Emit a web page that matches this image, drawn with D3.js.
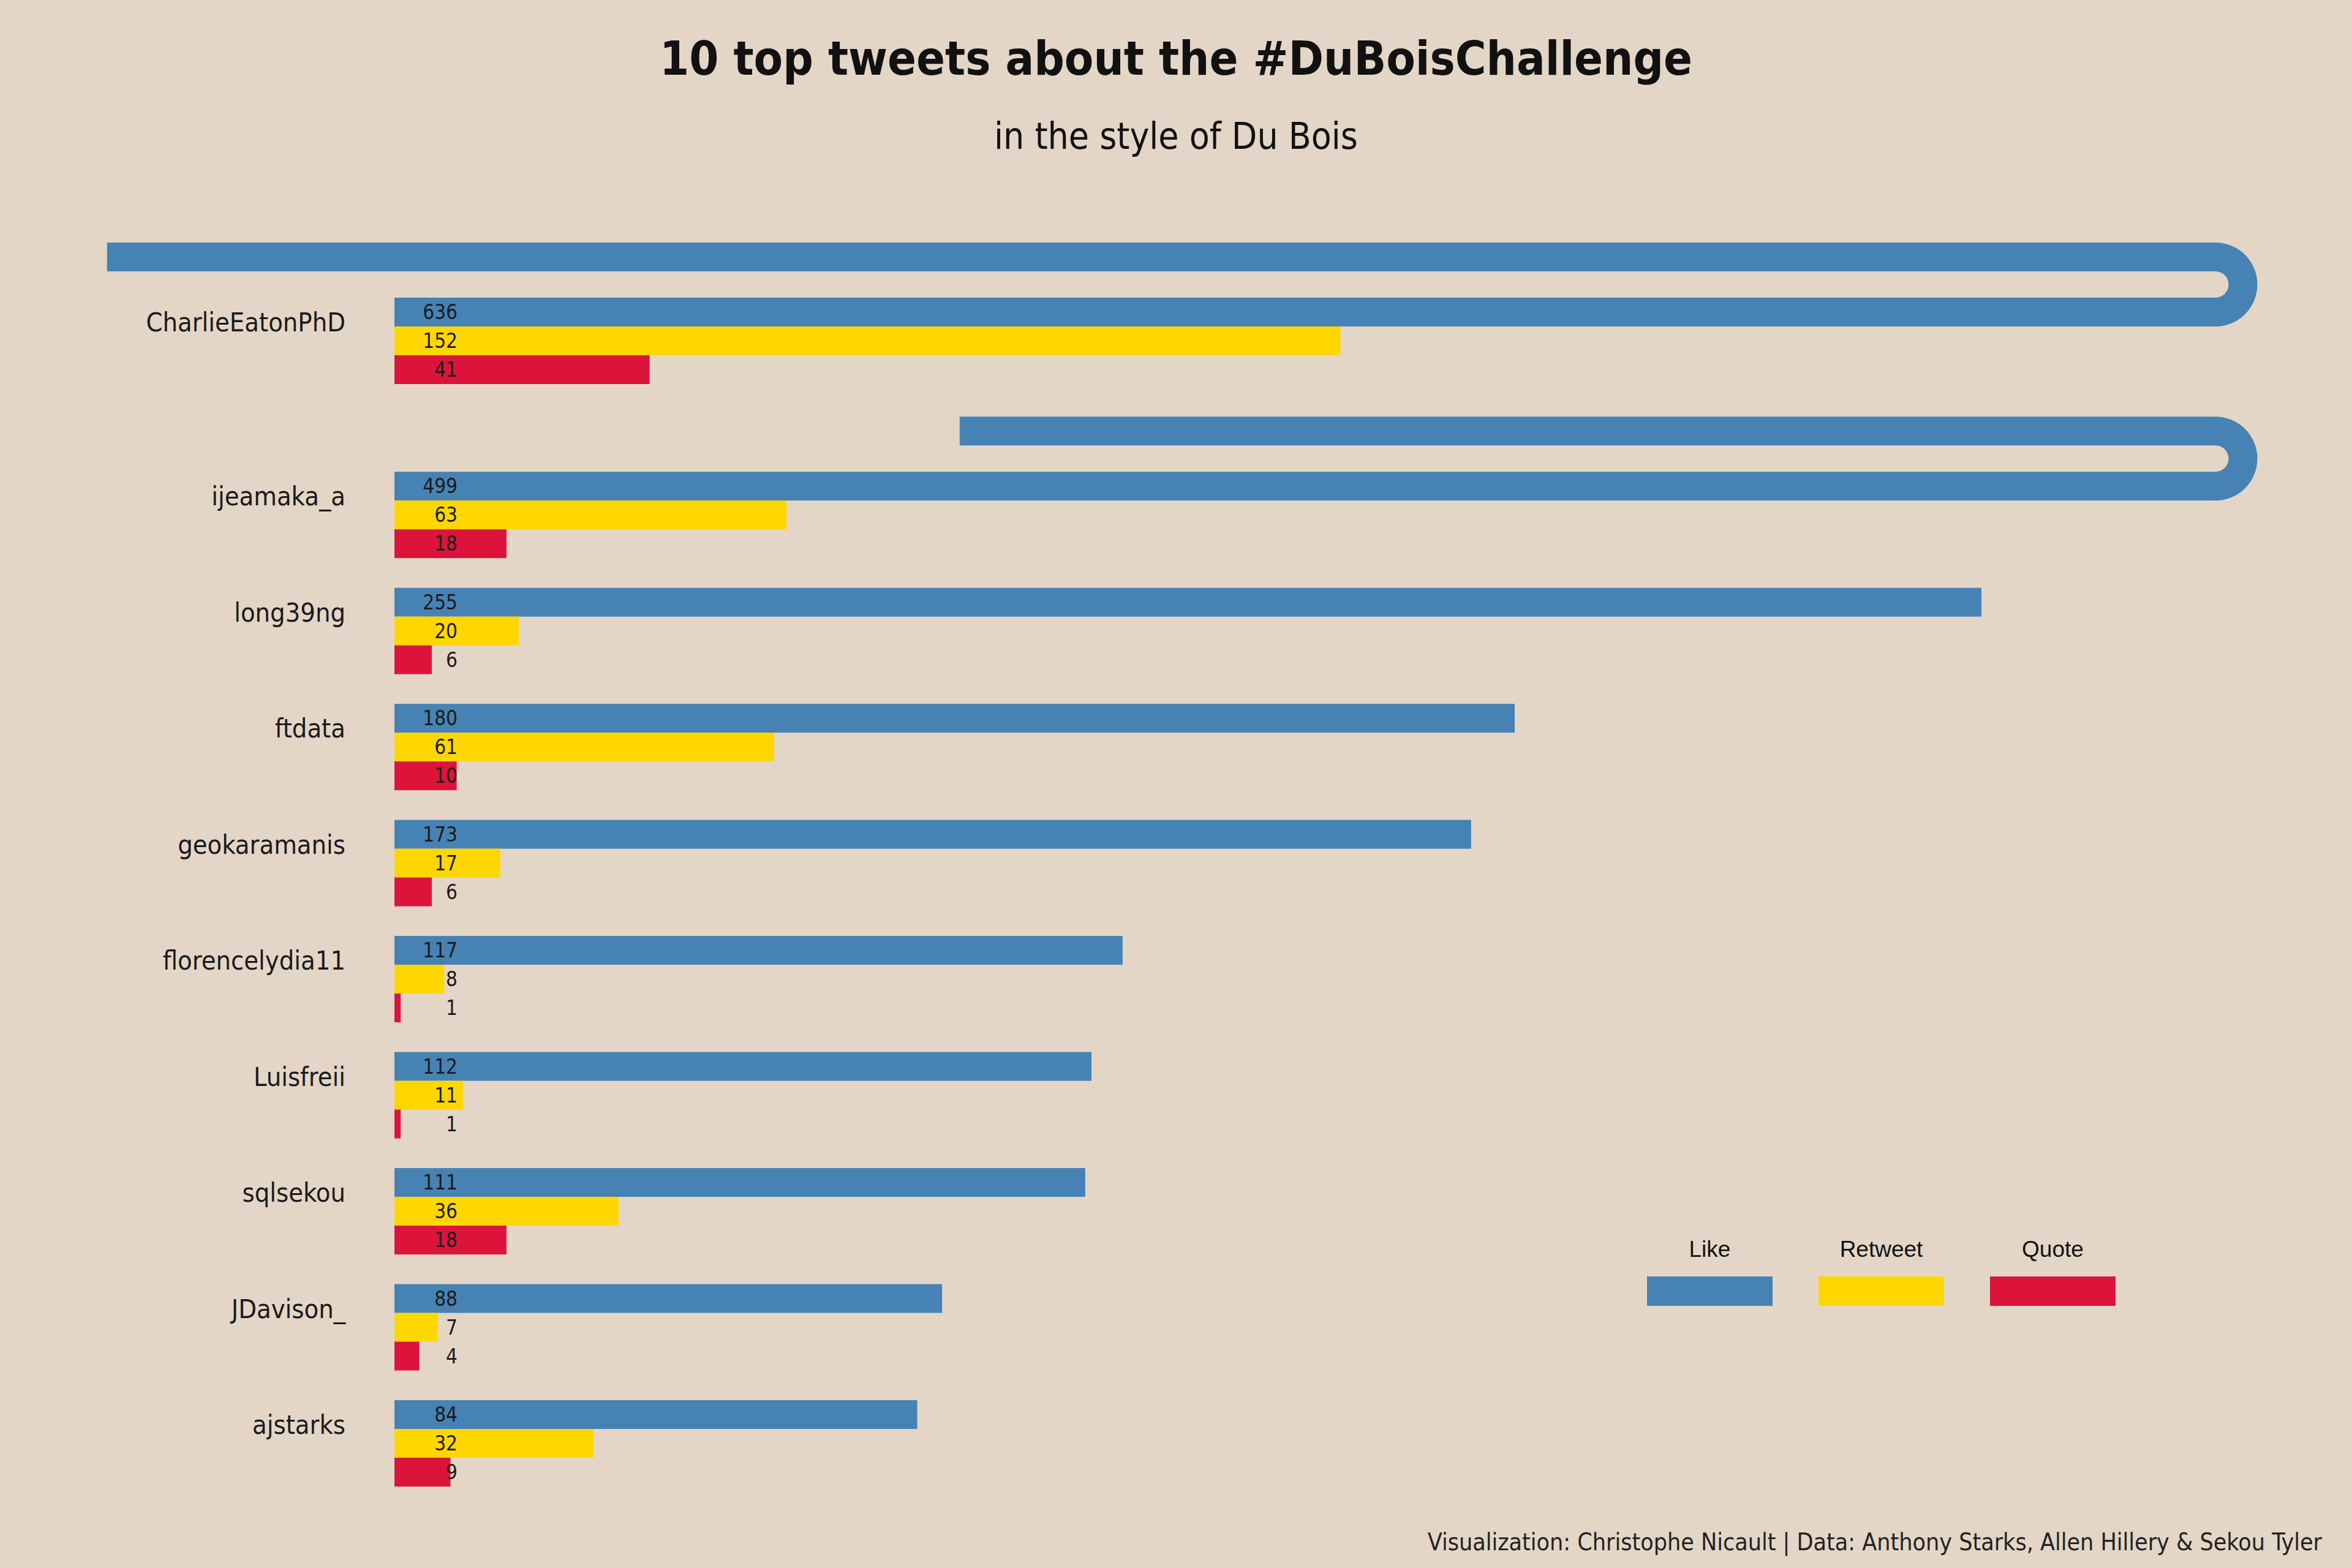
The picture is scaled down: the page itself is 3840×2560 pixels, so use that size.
<!DOCTYPE html>
<html>
<head>
<meta charset="utf-8">
<script src="https://cdn.jsdelivr.net/npm/d3@7"></script>
<style>
  html, body { margin: 0; padding: 0; background: #e3d6c6; }
  .cond { font-family: "Liberation Sans Narrow", "DejaVu Sans Condensed", "Roboto Condensed", Roboto, sans-serif; font-stretch: condensed; }
</style>
</head>
<body>
<div id="chart"></div>
<script>
var names = ["CharlieEatonPhD", "ijeamaka_a", "long39ng", "ftdata", "geokaramanis",
             "florencelydia11", "Luisfreii", "sqlsekou", "JDavison_", "ajstarks"];
var likes = [636, 499, 255, 180, 173, 117, 112, 111, 88, 84];
var retweets = [152, 63, 20, 61, 17, 8, 11, 36, 7, 32];
var quotes = [41, 18, 6, 10, 6, 1, 1, 18, 4, 9];
var series = ["Like", "Retweet", "Quote"];
var colors = ["steelblue", "gold", "crimson"];

var width = 3840, height = 2560;
var svg = d3.select("#chart").append("svg")
    .attr("width", width)
    .attr("height", height)
    .style("display", "block");

svg.append("rect").attr("width", width).attr("height", height).attr("fill", "#e3d6c6");

var x = d3.scaleLinear().domain([0, 255]).range([644, 3235]);
var xTurn = 3617;          // where long bars fold back
var xMaxVal = x.invert(xTurn);
var barH = 47;
var gap = 43;              // space between folded leg and main bar

// groups with folded bars take half a step more
var slots = [];
var s = 0;
likes.forEach((v, i) => {
    if (i > 0 && v > xMaxVal) s += 0.5;
    slots.push(s);
    s += 1;
});
var y = d3.scaleLinear().domain([0, 9.5]).range([486, 2286]);

// title
svg.append("text")
    .attr("class", "cond")
    .attr("x", width / 2).attr("y", 122)
    .attr("text-anchor", "middle")
    .attr("font-size", 77)
    .attr("font-weight", 600)
    .attr("fill", "#111")
    .text("10 top tweets about the #DuBoisChallenge");
svg.append("text")
    .attr("class", "cond")
    .attr("x", width / 2).attr("y", 243)
    .attr("text-anchor", "middle")
    .attr("font-size", 60)
    .attr("fill", "#111")
    .text("in the style of Du Bois");

names.forEach((name, i) => {
    var top = y(slots[i]);
    var vals = [likes[i], retweets[i], quotes[i]];
    var g = svg.append("g");

    g.append("text")
        .attr("class", "cond")
        .attr("x", 564).attr("y", top + 55)
        .attr("text-anchor", "end")
        .attr("font-size", 43)
        .attr("fill", "#1a1a1a")
        .text(name);

    vals.forEach((v, j) => {
        var by = top + j * barH;
        if (v > xMaxVal) {
            // main leg, bend and return leg
            g.append("rect")
                .attr("x", x(0)).attr("y", by)
                .attr("width", xTurn - x(0)).attr("height", barH)
                .attr("fill", colors[j]);
            var arc = d3.arc()
                .innerRadius(gap / 2)
                .outerRadius(gap / 2 + barH)
                .startAngle(0)
                .endAngle(Math.PI);
            g.append("path")
                .attr("d", arc)
                .attr("transform", "translate(" + xTurn + "," + (by - gap / 2) + ")")
                .attr("fill", colors[j]);
            var rest = x(v) - xTurn - barH;
            g.append("rect")
                .attr("x", xTurn - rest).attr("y", by - gap - barH)
                .attr("width", rest).attr("height", barH)
                .attr("fill", colors[j]);
        } else {
            g.append("rect")
                .attr("x", x(0)).attr("y", by)
                .attr("width", x(v) - x(0)).attr("height", barH)
                .attr("fill", colors[j]);
        }
        g.append("text")
            .attr("class", "cond")
            .attr("x", 747).attr("y", by + 35)
            .attr("text-anchor", "end")
            .attr("font-size", 33)
            .attr("fill", "#1a1a1a")
            .text(v);
    });
});

// legend
var legend = svg.append("g").attr("transform", "translate(2689,2084)");
series.forEach((s, i) => {
    legend.append("rect")
        .attr("x", i * 280).attr("y", 0)
        .attr("width", 205).attr("height", 48)
        .attr("fill", colors[i]);
    legend.append("text")
        .attr("x", i * 280 + 102.5).attr("y", -32)
        .attr("text-anchor", "middle")
        .attr("font-family", "Liberation Sans, Arial, sans-serif")
        .attr("font-size", 37)
        .attr("fill", "#111")
        .text(s);
});

svg.append("text")
    .attr("class", "cond")
    .attr("x", 3791).attr("y", 2531)
    .attr("text-anchor", "end")
    .attr("font-size", 39)
    .attr("fill", "#222")
    .text("Visualization: Christophe Nicault | Data: Anthony Starks, Allen Hillery & Sekou Tyler");
</script>
</body>
</html>
